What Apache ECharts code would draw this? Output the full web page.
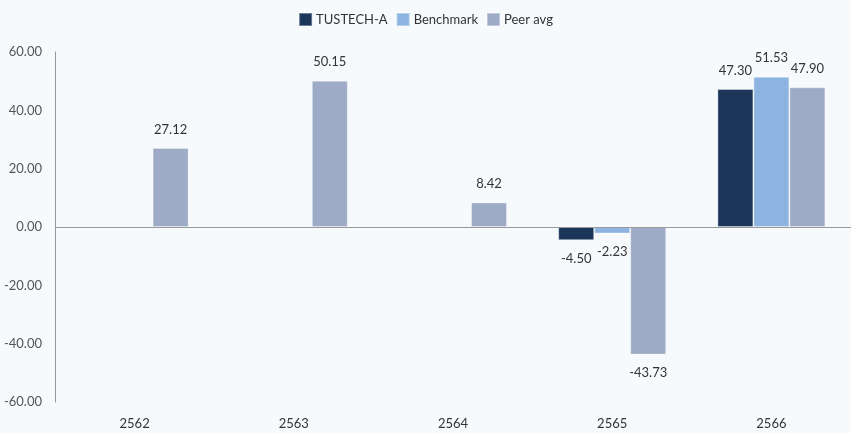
<!DOCTYPE html>
<html>
<head>
<meta charset="utf-8">
<script src="https://cdn.jsdelivr.net/npm/echarts@6/dist/echarts.min.js"></script>
<style>
  html, body { margin: 0; padding: 0; background: #f7fafd; }
  #chart { width: 851px; height: 433px; }
</style>
</head>
<body>
<div id="chart"></div>
<script>
const years = ['2562', '2563', '2564', '2565', '2566'];
const fundValues = [null, null, null, -4.50, 47.30];
const benchmarkValues = [null, null, null, -2.23, 51.53];
const peerValues = [27.12, 50.15, 8.42, -43.73, 47.90];

const chart = echarts.init(document.getElementById('chart'));

const labelFont = { fontFamily: 'Lato', fontSize: 13, color: '#333' };

// negative bars get their label underneath
const toItems = (arr) => arr.map(v => (v !== null && v < 0) ? { value: v, label: { position: 'bottom' } } : v);

const barSeries = (name, values, color) => ({
  name: name,
  type: 'bar',
  data: toItems(values),
  barWidth: 36,
  barGap: 0,
  itemStyle: { color: color, borderColor: 'rgba(255,255,255,0.35)', borderWidth: 1 },
  label: {
    show: true,
    position: 'top',
    distance: 12,
    formatter: p => p.value.toFixed(2),
    ...labelFont
  }
});

const option = {
  backgroundColor: '#f7fafd',
  textStyle: { fontFamily: 'Lato' },
  legend: {
    top: 7,
    left: 'center',
    itemWidth: 13,
    itemHeight: 13,
    itemGap: 8,
    icon: 'rect',
    textStyle: { fontFamily: 'Lato', fontSize: 13, color: '#333', padding: [0, 0, 0, -1] },
    data: ['TUSTECH-A', 'Benchmark', 'Peer avg']
  },
  grid: { left: 55, top: 52, bottom: 31, width: 802 },
  xAxis: {
    type: 'category',
    data: years,
    axisLine: { show: false },
    axisTick: { show: false },
    axisLabel: { fontFamily: 'Lato', fontSize: 13, color: '#333', margin: 15 }
  },
  yAxis: {
    type: 'value',
    min: -60,
    max: 60,
    interval: 20,
    axisLine: { show: true, lineStyle: { color: '#999' } },
    axisTick: { show: false },
    splitLine: { show: false },
    axisLabel: {
      fontFamily: 'Lato', fontSize: 13, color: '#555', margin: 13,
      formatter: v => v.toFixed(2)
    }
  },
  series: [
    barSeries('TUSTECH-A', fundValues, '#1c365a'),
    barSeries('Benchmark', benchmarkValues, '#8db4e0'),
    {
      ...barSeries('Peer avg', peerValues, '#9eabc6'),
      markLine: {
        silent: true,
        symbol: 'none',
        label: { show: false },
        lineStyle: { color: '#999', type: 'solid', width: 1 },
        data: [{ yAxis: 0 }]
      }
    }
  ]
};

chart.setOption(option);
</script>
</body>
</html>
